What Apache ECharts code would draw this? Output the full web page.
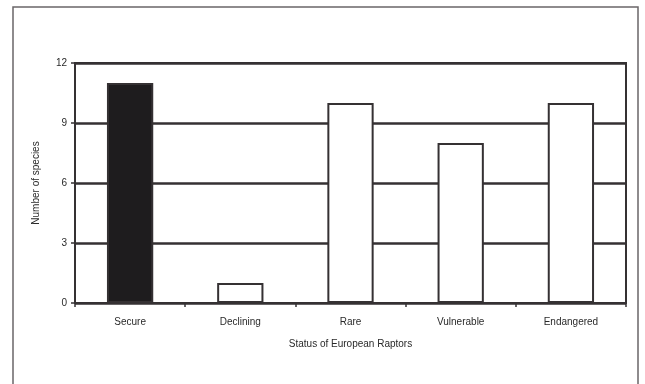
<!DOCTYPE html>
<html>
<head>
<meta charset="utf-8">
<script src="https://cdn.jsdelivr.net/npm/echarts@6/dist/echarts.min.js"></script>
<style>html,body{margin:0;padding:0;background:#fff}#c{width:645px;height:384px}</style>
</head>
<body>
<div id="c"></div>
<script>
const categories = ['Secure', 'Declining', 'Rare', 'Vulnerable', 'Endangered'];
const speciesCounts = [11, 1, 10, 8, 10];
const yTicks = [0, 3, 6, 9, 12];
const barColors = ['#1e1c1e', '#ffffff', '#ffffff', '#ffffff', '#ffffff'];

const chart = echarts.init(document.getElementById('c'), null, {renderer: 'canvas'});
const ink = '#353133';
chart.setOption({
  animation: false,
  backgroundColor: '#ffffff',
  textStyle: {fontFamily: 'Liberation Sans, Arial, sans-serif'},
  graphic: [{
    type: 'rect', z: -1, silent: true,
    shape: {x: 13, y: 7, width: 625, height: 400},
    style: {fill: 'none', stroke: '#6a6668', lineWidth: 1.5}
  }],
  grid: {left: 75, right: 19, top: 63, bottom: 81, show: true, borderColor: ink, borderWidth: 2, backgroundColor: 'transparent'},
  xAxis: {
    type: 'category',
    data: categories,
    name: 'Status of European Raptors',
    nameLocation: 'middle',
    nameGap: 36,
    nameTextStyle: {fontSize: 10, color: '#2a2a2a'},
    axisLine: {lineStyle: {color: ink, width: 2}},
    axisTick: {show: true, alignWithLabel: false, length: 4, lineStyle: {color: ink, width: 1.5}},
    axisLabel: {fontSize: 10, color: '#2a2a2a', margin: 14}
  },
  yAxis: {
    type: 'value',
    min: 0, max: 12, interval: 3,
    name: 'Number of species',
    nameLocation: 'middle',
    nameGap: 34,
    nameTextStyle: {fontSize: 10, color: '#2a2a2a'},
    axisLine: {show: true, lineStyle: {color: ink, width: 2}},
    axisTick: {show: true, length: 4, lineStyle: {color: ink, width: 1.5}},
    axisLabel: {fontSize: 10, color: '#2a2a2a', margin: 8, formatter: v => yTicks.includes(v) ? String(v) : ''},
    splitLine: {show: true, lineStyle: {color: ink, width: 2.5}}
  },
  series: [{
    type: 'bar',
    data: speciesCounts.map((v, i) => ({value: v, itemStyle: {color: barColors[i]}})),
    barWidth: '42%',
    itemStyle: {borderColor: ink, borderWidth: 2}
  }]
});
</script>
</body>
</html>
